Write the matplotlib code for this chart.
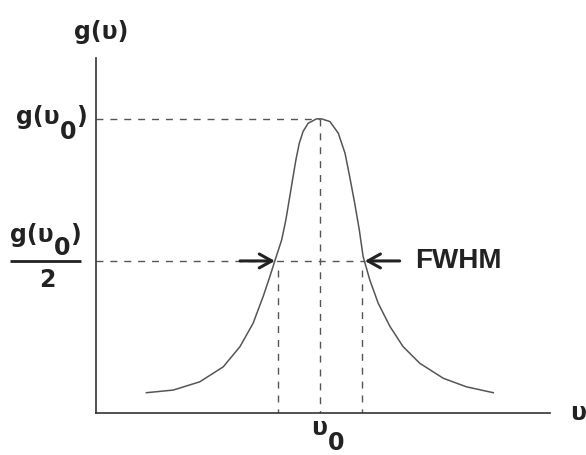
import matplotlib
matplotlib.use("Agg")
import matplotlib.pyplot as plt

# line shape, x in units of half-width from line centre, g normalised to peak
nu = [-4.13, -3.49, -2.86, -2.30, -1.90, -1.59, -1.35, -1.19, -1.07, -0.91,
      -0.81, -0.73, -0.65, -0.57, -0.49, -0.40, -0.28, -0.08, 0.04, 0.24,
      0.44, 0.60, 0.71, 0.83, 0.94, 1.03, 1.19, 1.39, 1.67, 1.98,
      2.38, 2.94, 3.49, 4.13]
g = [0.069, 0.078, 0.106, 0.157, 0.226, 0.305, 0.396, 0.464, 0.518, 0.588,
     0.656, 0.724, 0.793, 0.861, 0.917, 0.957, 0.985, 1.000, 1.000, 0.991,
     0.951, 0.883, 0.804, 0.713, 0.622, 0.532, 0.452, 0.373, 0.294, 0.226,
     0.169, 0.118, 0.089, 0.069]

nu0 = 0.0
g_peak = 1.0
g_half = 0.517
half_lo, half_hi = -1.07, 1.07      # where the curve crosses g_half
mark_lo, mark_hi = -1.0, 1.0        # vertical guide lines

FONT = "Liberation Sans"
SYM_FONT = "DejaVu Sans"
INK = "#222222"
LINE = "#555555"

fig = plt.figure(figsize=(5.86, 4.55), dpi=100)
fig.patch.set_facecolor("white")
ax = fig.add_axes([96 / 586, 42 / 455, 454 / 586, 355 / 455])
ax.set_xlim(-5.33, 5.48)
ax.set_ylim(0, 1.207)
ax.set_facecolor("none")
for side in ("top", "right"):
    ax.spines[side].set_visible(False)
for side in ("left", "bottom"):
    ax.spines[side].set_color("#333333")
    ax.spines[side].set_linewidth(1.2)
ax.set_xticks([])
ax.set_yticks([])

ax.plot(nu, g, color=LINE, lw=1.1, solid_joinstyle="round")

dash = dict(color=LINE, lw=1.0, dashes=(5, 5))
ax.plot([-5.33, nu0], [g_peak, g_peak], **dash)
ax.plot([-5.33, half_hi], [g_half, g_half], **dash)
ax.plot([nu0, nu0], [g_peak, 0], **dash)
ax.plot([mark_lo, mark_lo], [g_half - 0.03, 0], **dash)
ax.plot([mark_hi, mark_hi], [g_half - 0.03, 0], **dash)

arrow = dict(arrowstyle="->,head_length=0.9,head_width=0.5", lw=2.2,
             color=INK, shrinkA=0, shrinkB=0, mutation_scale=10)
ax.annotate("", xy=(half_lo, g_half), xytext=(-1.90, g_half),
            arrowprops=arrow, annotation_clip=False)
ax.annotate("", xy=(half_hi, g_half), xytext=(1.90, g_half),
            arrowprops=arrow, annotation_clip=False)

ax.text(2.26, g_half, "FWHM", fontsize=20, fontweight="bold", family=FONT,
        color=INK, ha="left", va="center")

renderer = fig.canvas.get_renderer()


def sub_label(x, y, base, sub, tail, size, drop, ha="left"):
    # base text, full-size lowered subscript, then the closing part
    pieces = []
    dx = 0.0
    for s, dy in ((base, 0), (sub, -drop), (tail, 0)):
        if not s:
            continue
        t = ax.annotate(s, (x, y), xytext=(dx, dy), textcoords="offset pixels",
                        ha="left", va="baseline", fontsize=size,
                        fontweight="bold", family=SYM_FONT, color=INK,
                        annotation_clip=False)
        dx += t.get_window_extent(renderer).width
        pieces.append(t)
    shift = {"left": 0.0, "center": dx / 2, "right": dx}[ha]
    for t in pieces:
        ox, oy = t.xyann
        t.xyann = (ox - shift, oy)


# axis titles
ax.annotate("g(\u03c5)", (-5.21, 1.296), ha="center", va="center",
            fontsize=17, fontweight="bold", family=SYM_FONT, color=INK,
            annotation_clip=False)
ax.annotate("\u03c5", (5.95, -0.024), ha="left", va="baseline",
            fontsize=17, fontweight="bold", family=SYM_FONT, color=INK,
            annotation_clip=False)

# peak value label
sub_label(-5.55, 0.983, "g(\u03c5", "0", ")", 17, 15, ha="right")

# half value label as a fraction
sub_label(-6.53, 0.582, "g(\u03c5", "0", ")", 17, 13, ha="center")
ax.plot([-7.38, -5.69], [g_half, g_half], color=INK, lw=2.0,
        solid_capstyle="butt", clip_on=False)
ax.annotate("2", (-6.48, 0.429), ha="center", va="baseline", fontsize=17,
            fontweight="bold", family=SYM_FONT, color=INK,
            annotation_clip=False)

# line centre label
sub_label(nu0 - 0.2, -0.075, "\u03c5", "0", "", 17, 15, ha="left")

fig.savefig("out.png", dpi=100)
